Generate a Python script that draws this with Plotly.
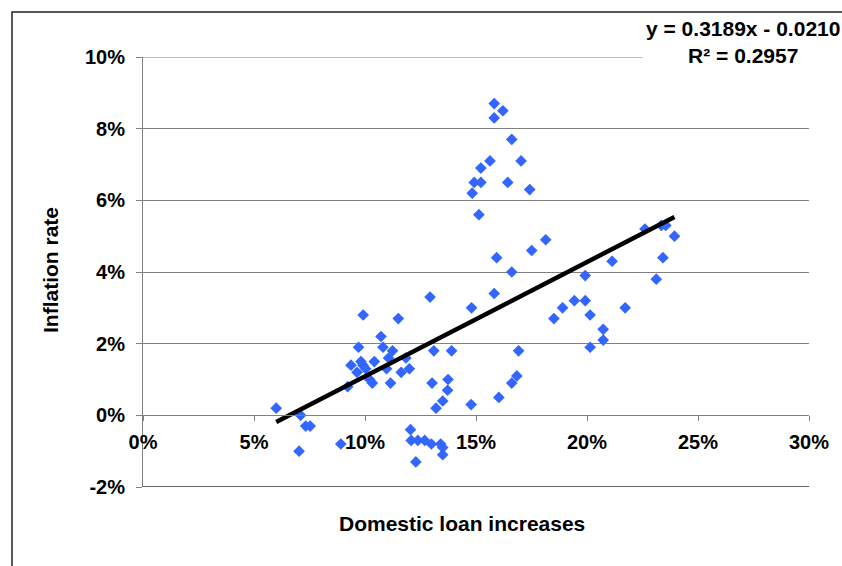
import plotly.graph_objects as go

# Domestic loan growth (x) vs inflation rate (y), in percent
loan_growth = [
    6.0, 7.1, 7.33, 7.53, 7.03, 8.91, 9.92, 11.5, 10.72, 9.71,
    10.81, 11.24, 9.37, 9.82, 9.64, 9.91, 10.03, 10.42, 11.06, 10.97,
    10.21, 10.33, 11.15, 9.22, 11.63, 11.84, 12.0, 12.05, 13.1, 13.9,
    13.02, 13.74, 13.72, 13.5, 13.2, 14.78, 12.08, 12.38, 12.69, 12.99,
    13.41, 13.5, 13.5, 12.29, 12.93, 14.8, 15.82, 18.51, 18.9, 16.92,
    16.03, 16.61, 16.84, 16.61, 19.92, 21.13, 23.12, 23.42, 19.43, 19.92,
    20.14, 21.72, 20.73, 20.73, 20.14, 18.14, 22.61, 23.35, 23.55, 23.94,
    15.82, 16.21, 15.82, 16.61, 15.63, 17.03, 15.22, 14.92, 15.22, 16.43,
    14.83, 17.42, 15.13, 17.51, 15.93,
]
inflation = [
    0.2, 0.0, -0.3, -0.3, -1.0, -0.8, 2.8, 2.7, 2.2, 1.9,
    1.9, 1.8, 1.4, 1.5, 1.2, 1.4, 1.3, 1.5, 1.6, 1.3,
    1.0, 0.9, 0.9, 0.8, 1.2, 1.6, 1.3, -0.4, 1.8, 1.8,
    0.9, 1.0, 0.7, 0.4, 0.2, 0.3, -0.7, -0.7, -0.7, -0.8,
    -0.8, -0.9, -1.1, -1.3, 3.3, 3.0, 3.4, 2.7, 3.0, 1.8,
    0.5, 0.9, 1.1, 4.0, 3.9, 4.3, 3.8, 4.4, 3.2, 3.2,
    2.8, 3.0, 2.4, 2.1, 1.9, 4.9, 5.2, 5.3, 5.3, 5.0,
    8.7, 8.5, 8.3, 7.7, 7.1, 7.1, 6.9, 6.5, 6.5, 6.5,
    6.2, 6.3, 5.6, 4.6, 4.4,
]
x_vals = [v / 100 for v in loan_growth]
y_vals = [v / 100 for v in inflation]

# Linear trend as stated in the equation label
slope = 0.3189
intercept = -0.0210
r_squared = 0.2957
trend_x = [min(x_vals), max(x_vals)]
trend_y = [slope * v + intercept for v in trend_x]

x_ticks = [0.0, 0.05, 0.10, 0.15, 0.20, 0.25, 0.30]
x_tick_text = ["0%", "5%", "10%", "15%", "20%", "25%", "30%"]
y_ticks = [-0.02, 0.0, 0.02, 0.04, 0.06, 0.08, 0.10]
y_tick_text = ["-2%", "0%", "2%", "4%", "6%", "8%", "10%"]

FONT = "Liberation Sans, Arial, sans-serif"
GRID = "#808080"
TICK_FONT = dict(family=FONT, size=20, color="black", weight="bold")
TITLE_FONT = dict(family=FONT, size=21, color="black", weight="bold")

fig = go.Figure()
fig.add_trace(go.Scatter(
    x=x_vals, y=y_vals, mode="markers",
    marker=dict(symbol="diamond", size=9, color="#3366FF"),
    showlegend=False, hoverinfo="x+y",
))
fig.add_trace(go.Scatter(
    x=trend_x, y=trend_y, mode="lines",
    line=dict(color="black", width=4.5),
    showlegend=False, hoverinfo="skip",
))

L, R, T, B = 143, 33, 57, 79
W, H = 842, 566
pw, ph = W - L - R, H - T - B

def px_x(p):
    return (p - L) / pw

def px_y(p):
    return (H - B - p) / ph

y_lo, y_hi = y_ticks[0], y_ticks[-1]

fig.update_layout(
    width=W, height=H,
    margin=dict(l=L, r=R, t=T, b=B, pad=0),
    paper_bgcolor="white", plot_bgcolor="white",
    font=dict(family=FONT, size=16, color="black", weight="bold"),
    xaxis=dict(
        range=[0, 0.30], tickvals=x_ticks, ticktext=x_tick_text,
        anchor="free", position=(0 - y_lo) / (y_hi - y_lo),
        showline=True, linecolor=GRID, linewidth=1,
        ticks="outside", ticklen=5, tickcolor=GRID,
        showgrid=False, zeroline=False,
        ticklabelstandoff=4, tickfont=TICK_FONT,
    ),
    yaxis=dict(
        range=[y_lo, y_hi], tickvals=y_ticks, ticktext=y_tick_text,
        showline=True, linecolor=GRID, linewidth=1,
        ticks="outside", ticklen=6, tickcolor=GRID,
        showgrid=True, gridcolor=GRID, gridwidth=1,
        zeroline=False, ticklabelstandoff=7, tickfont=TICK_FONT,
    ),
    shapes=[
        # outer chart frame
        dict(
            type="rect", xref="paper", yref="paper",
            x0=px_x(12), y0=px_y(700), x1=px_x(900), y1=px_y(12),
            line=dict(color="#222222", width=1.5), fillcolor="rgba(0,0,0,0)",
            layer="below",
        ),
        # gridlines on the range edges
        dict(type="line", xref="paper", yref="y", x0=0, x1=1, y0=y_lo, y1=y_lo,
             line=dict(color="#303030", width=1.3), layer="below"),
        dict(type="line", xref="paper", yref="y", x0=0, x1=1, y0=y_hi, y1=y_hi,
             line=dict(color=GRID, width=1), layer="below"),
    ],
    annotations=[
        dict(
            text=f"y = {slope:.4f}x - {abs(intercept):.4f}<br>R² = {r_squared:.4f}",
            xref="paper", yref="paper", x=px_x(743), y=px_y(42),
            xanchor="center", yanchor="middle", showarrow=False, align="center",
            bgcolor="white", borderpad=3,
            font=dict(family=FONT, size=21, color="black", weight="bold"),
        ),
        dict(
            text="Inflation rate", textangle=-90,
            xref="paper", yref="paper", x=px_x(50), y=px_y(270),
            xanchor="center", yanchor="middle", showarrow=False,
            font=TITLE_FONT,
        ),
        dict(
            text="Domestic loan increases",
            xref="paper", yref="paper", x=px_x(462), y=px_y(523),
            xanchor="center", yanchor="middle", showarrow=False,
            font=TITLE_FONT,
        ),
    ],
)

fig.write_html("out.html")
